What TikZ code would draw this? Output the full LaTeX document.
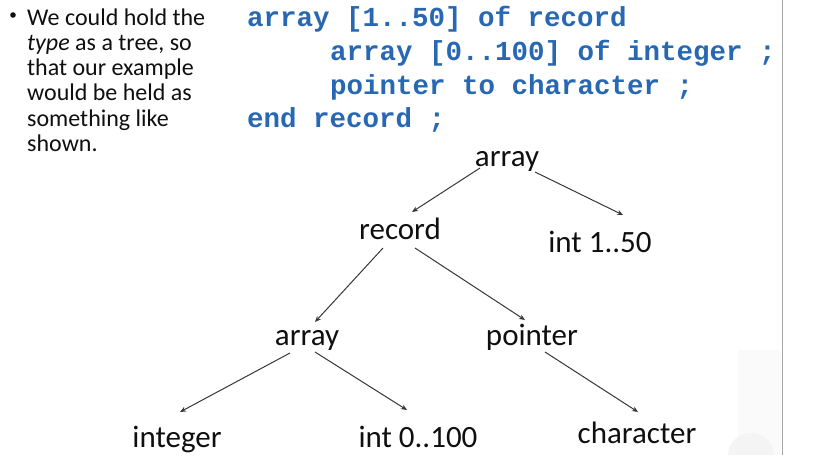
\documentclass[tikz,border=0pt]{standalone}
\usepackage{fontspec}
\setmainfont{Carlito}
\newfontfamily\codefont{Liberation Mono}
\usetikzlibrary{arrows.meta}
\definecolor{codeblue}{RGB}{40,104,178}
\definecolor{edgegray}{RGB}{55,55,55}
\definecolor{textblack}{RGB}{15,15,15}
\tikzset{
  bodytext/.style={anchor=base west, inner sep=0pt, text=textblack, font=\fontsize{24}{25}\selectfont},
  codeline/.style={anchor=base west, inner sep=0pt, text=codeblue, font=\codefont\bfseries\fontsize{27.5}{33}\selectfont},
  treelabel/.style={anchor=base, inner sep=0pt, text=textblack, font=\fontsize{31}{36}\selectfont},
  arr/.style={draw=edgegray, line width=1pt, -{Stealth[length=6pt,width=5pt]}},
}
\begin{document}
\begin{tikzpicture}[x=1pt,y=-1pt]
\useasboundingbox (0,0) rectangle (821,470);
% faint watermark and border line
\fill[gray!4] (738,350) rectangle (781,455);
\fill[gray!9] (728,455) arc[start angle=180, end angle=360, x radius=23pt, y radius=-22pt] -- cycle;
\draw[gray!70, line width=1pt] (782,0) -- (782,455);
% bullet text
\fill[textblack] (13,15) circle[radius=2.8];
\node[bodytext] (l1) at (27,26) {We could hold the};
\node[bodytext] (l2) at (27,51) {\textit{type} as a tree, so};
\node[bodytext] (l3) at (27,76) {that our example};
\node[bodytext] (l4) at (27,101) {would be held as};
\node[bodytext] (l5) at (27,127) {something like};
\node[bodytext] (l6) at (27,152) {shown.};
% code
\node[codeline] (c1) at (247,27) {array [1..50] of record};
\node[codeline] (c2) at (330,61) {array [0..100] of integer ;};
\node[codeline] (c3) at (330,95) {pointer to character ;};
\node[codeline] (c4) at (247,128) {end record ;};
% tree
\node[treelabel] (top) at (507,167) {array};
\node[treelabel] (rec) at (400,240) {record};
\node[treelabel] (i150) at (600,252) {int 1..50};
\node[treelabel] (arr2) at (307,345) {array};
\node[treelabel] (ptr) at (532,345) {pointer};
\node[treelabel] (integ) at (177,447) {integer};
\node[treelabel] (i0100) at (418,447) {int 0..100};
\node[treelabel] (chr) at (637,443) {character};
\draw[arr] ([shift={(-27,1)}]top.base) -- ([shift={(12,-28)}]rec.base);
\draw[arr] ([shift={(28,5)}]top.base) -- ([shift={(23,-37)}]i150.base);
\draw[arr] ([shift={(-17,8)}]rec.base) -- ([shift={(8,-23)}]arr2.base);
\draw[arr] ([shift={(15,8)}]rec.base) -- ([shift={(-7,-25)}]ptr.base);
\draw[arr] ([shift={(-17,8)}]arr2.base) -- ([shift={(3,-35)}]integ.base);
\draw[arr] ([shift={(8,7)}]arr2.base) -- ([shift={(-11,-37)}]i0100.base);
\draw[arr] ([shift={(13,7)}]ptr.base) -- ([shift={(1,-31)}]chr.base);
\end{tikzpicture}
\end{document}
